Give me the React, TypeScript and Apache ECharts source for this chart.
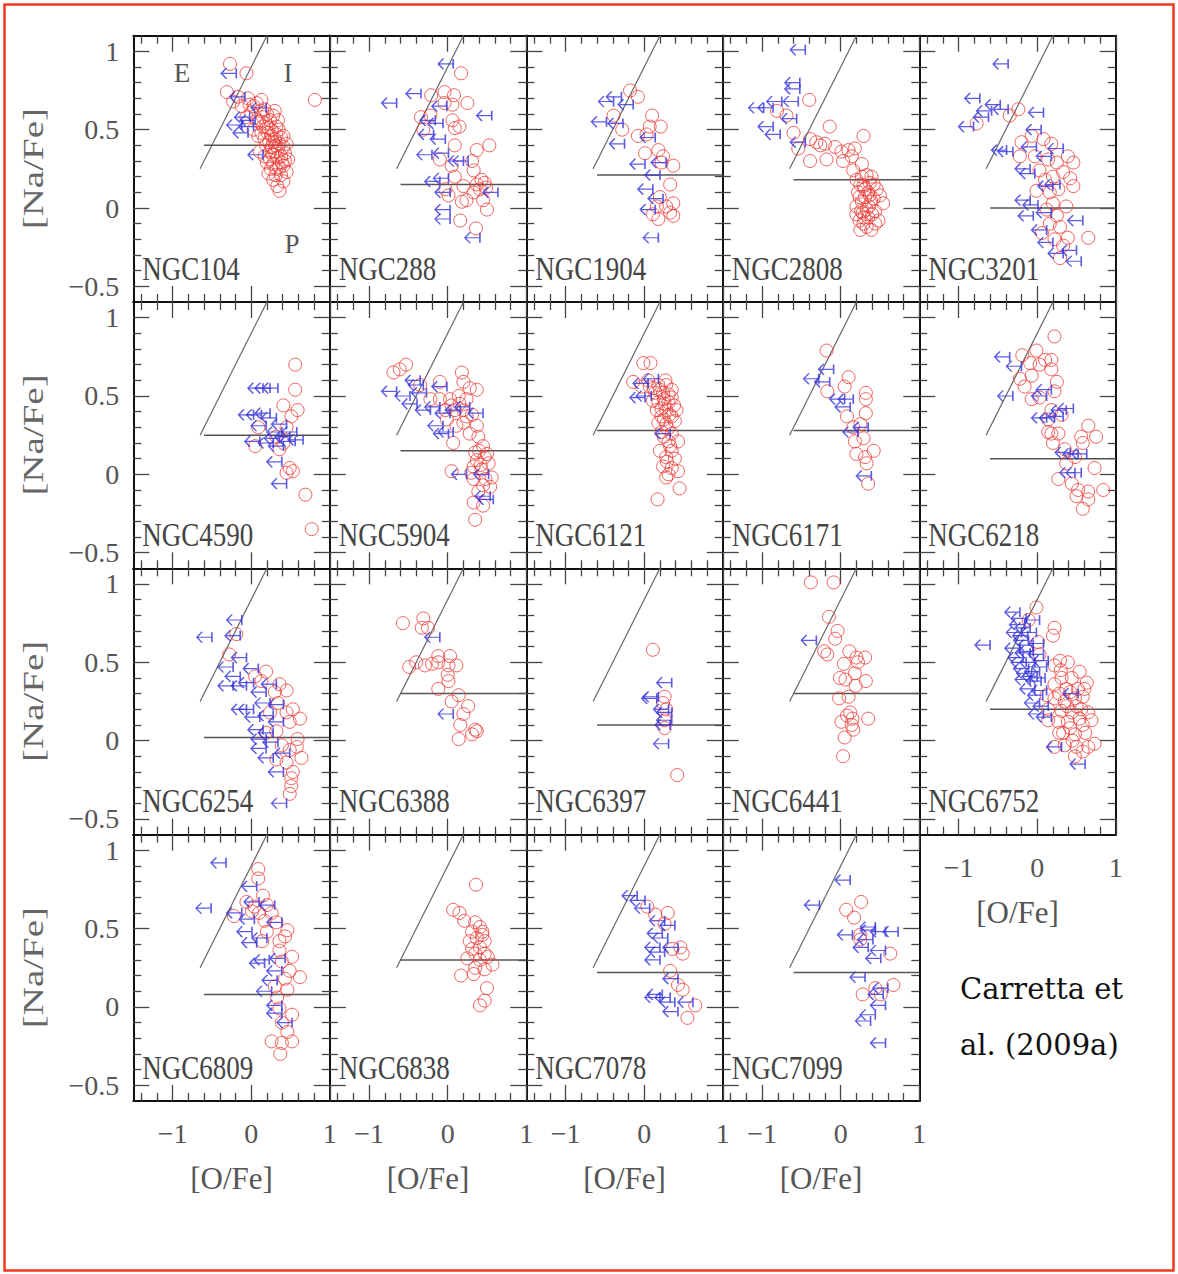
import { useEffect, useRef } from 'react';
import * as echarts from 'echarts';

// ---------- axes ----------
const X_RANGE = [-1.5, 1];
const Y_RANGE = [-0.6, 1.1];
const X_MAJOR = [-1, 0, 1];
const X_MINOR = [-1.4, -1.2, -0.8, -0.6, -0.4, -0.2, 0.2, 0.4, 0.6, 0.8];
const Y_MAJOR = [-0.5, 0, 0.5, 1];
const Y_MINOR = [-0.4, -0.3, -0.2, -0.1, 0.1, 0.2, 0.3, 0.4, 0.6, 0.7, 0.8, 0.9];

// ---------- clusters ----------
const CLUSTERS = ['NGC104', 'NGC288', 'NGC1904', 'NGC2808', 'NGC3201', 'NGC4590', 'NGC5904', 'NGC6121', 'NGC6171', 'NGC6218',
  'NGC6254', 'NGC6388', 'NGC6397', 'NGC6441', 'NGC6752', 'NGC6809', 'NGC6838', 'NGC7078', 'NGC7099'];
// [Na/Fe] level of the P / I separation (horizontal line)
const H_LEVEL = [0.40, 0.15, 0.21, 0.18, 0.0, 0.25, 0.15, 0.28, 0.28, 0.10, 0.02, 0.30, 0.10, 0.30, 0.20, 0.08, 0.30, 0.22, 0.22];
const H_START = -0.6;
// I / E separation: [O/Na] = -0.9
const DIAGONAL = [[-0.65, 0.25], [0.2, 1.1]];

// ---------- data: [O/Fe], [Na/Fe]; *_D detections (circles), *_U upper limits in O (arrows) ----------
const NGC104_D = [[-0.27,0.92],[-0.06,0.86],[0.81,0.69],[-0.31,0.74],[-0.17,0.71],[-0.04,0.70],[0.13,0.69],[0.03,0.65],[0.17,0.63],[0.28,0.59],[-0.06,0.58],[0.07,0.56],[0.19,0.54],[0.32,0.52],[0.41,0.46],[0.03,0.50],[0.13,0.48],[0.26,0.46],[0.36,0.41],[0.19,0.40],[0.30,0.36],[0.43,0.35],[0.11,0.36],[0.24,0.31],[0.39,0.29],[0.32,0.25],[0.45,0.23],[0.22,0.22],[0.28,0.18],[0.41,0.17],[0.36,0.11],[0.00,0.61],[0.15,0.58],[0.24,0.56],[0.34,0.56],[0.15,0.52],[0.26,0.50],[0.32,0.47],[0.17,0.44],[0.28,0.42],[0.34,0.38],[0.24,0.36],[0.41,0.39],[0.34,0.32],[0.28,0.28],[0.17,0.33],[0.41,0.27],[0.07,0.67],[-0.12,0.65],[-0.23,0.68],
  [0.21,0.48],[0.30,0.44],[0.38,0.45],[0.23,0.42],[0.31,0.40],[0.38,0.33],[0.27,0.34],[0.20,0.29],[0.36,0.26],[0.31,0.21],[0.25,0.25],[0.38,0.21],[0.43,0.30],[0.10,0.55],[0.20,0.60],[0.30,0.62],[0.09,0.46],[0.22,0.51],[0.35,0.50],[0.45,0.41],[0.26,0.39],[0.33,0.14],[0.47,0.31],[-0.02,0.66],[0.12,0.62]];
const NGC104_U = [[-0.19,0.86],[-0.08,0.71],[0.19,0.64],[-0.02,0.58],[-0.12,0.53],[-0.04,0.48],[0.05,0.56],[0.15,0.34],[0.03,0.52]];

const NGC288_D = [[0.17,0.86],[-0.21,0.72],[-0.04,0.74],[0.08,0.72],[0.25,0.67],[-0.04,0.67],[0.06,0.66],[-0.34,0.58],[-0.22,0.59],[0.06,0.56],[0.15,0.52],[0.09,0.51],[-0.31,0.50],[0.53,0.40],[0.09,0.40],[0.37,0.37],[-0.10,0.31],[0.31,0.30],[0.05,0.27],[0.33,0.24],[0.09,0.20],[0.43,0.18],[0.37,0.15],[0.47,0.16],[0.41,0.12],[0.49,0.13],[0.20,0.14],[0.01,0.08],[0.24,0.05],[0.18,0.04],[0.45,0.05],[0.50,-0.01],[0.16,-0.08],[0.36,-0.13],[-0.03,0.12],[0.33,0.10]];
const NGC288_U = [[0.07,0.92],[-0.34,0.73],[-0.65,0.67],[-0.01,0.65],[0.56,0.59],[-0.16,0.56],[-0.06,0.54],[-0.18,0.47],[-0.03,0.44],[-0.20,0.34],[0.01,0.35],[0.26,0.30],[0.20,0.30],[-0.10,0.17],[0.01,0.19],[0.03,0.10],[0.64,0.10],[0.03,-0.01],[0.03,-0.07],[0.41,-0.19]];

const NGC1904_D = [[-0.18,0.75],[-0.08,0.71],[-0.39,0.59],[-0.28,0.50],[0.10,0.59],[0.07,0.52],[0.21,0.52],[-0.08,0.46],[0.03,0.47],[0.18,0.37],[0.01,0.35],[0.24,0.33],[0.37,0.27],[0.22,0.29],[0.33,0.15],[0.20,0.07],[0.37,0.03],[0.16,0.01],[0.11,-0.04],[0.18,-0.07],[0.33,-0.03],[0.37,-0.05],[0.28,0.01]];
const NGC1904_U = [[-0.29,0.71],[-0.39,0.68],[-0.14,0.66],[-0.48,0.55],[-0.27,0.54],[-0.25,0.41],[0.14,0.45],[0.01,0.28],[0.28,0.29],[0.20,0.21],[0.11,0.12],[0.24,0.06],[0.14,-0.01],[0.18,-0.19]];

const NGC2808_D = [[-0.40,0.69],[-0.81,0.62],[-0.69,0.59],[-0.60,0.48],[-0.54,0.38],[-0.39,0.44],[-0.31,0.42],[-0.20,0.41],[-0.14,0.52],[-0.07,0.39],[-0.39,0.30],[-0.18,0.31],[0.01,0.36],[0.18,0.38],[0.29,0.46],[0.03,0.30],[0.14,0.33],[0.27,0.28],[0.16,0.24],[0.33,0.21],[0.20,0.18],[0.42,0.15],[0.29,0.14],[0.22,0.10],[0.35,0.10],[0.46,0.12],[0.54,0.03],[0.27,0.04],[0.39,0.04],[0.20,0.01],[0.33,-0.01],[0.44,-0.02],[0.20,-0.04],[0.35,-0.06],[0.29,-0.10],[0.48,-0.08],[0.25,-0.14],[0.39,-0.14],[-0.26,0.40],[0.10,0.37],[0.27,0.20],[0.39,0.20],
  [0.24,0.07],[0.31,0.07],[0.37,0.08],[0.42,0.06],[0.26,-0.02],[0.30,-0.06],[0.40,-0.04],[0.24,-0.08],[0.33,-0.12],[0.44,-0.10],[0.31,0.12],[0.37,0.16],[0.25,0.15],[0.50,0.08],[0.36,0.01],[0.28,-0.03]];
const NGC2808_U = [[-0.45,1.01],[-0.52,0.80],[-0.52,0.76],[-0.54,0.68],[-0.75,0.68],[-0.86,0.64],[-0.98,0.64],[-0.56,0.57],[-0.86,0.52],[-0.77,0.47],[-0.45,0.42]];

const NGC3201_D = [[-0.24,0.63],[-0.35,0.59],[-0.77,0.54],[-0.20,0.42],[-0.07,0.46],[0.08,0.44],[0.18,0.41],[-0.22,0.33],[-0.03,0.33],[0.14,0.31],[0.25,0.29],[0.39,0.33],[0.46,0.29],[0.33,0.23],[0.42,0.19],[0.46,0.14],[0.03,0.24],[0.10,0.18],[0.20,0.20],[-0.01,0.11],[0.16,0.10],[0.27,0.12],[0.20,0.03],[0.37,0.01],[0.25,-0.05],[0.16,-0.10],[0.29,-0.12],[0.39,-0.19],[0.22,-0.20],[0.33,-0.24],[0.29,-0.32],[0.65,-0.19],[0.06,-0.16],[0.12,-0.01]];
const NGC3201_U = [[-0.37,0.92],[-0.73,0.70],[-0.47,0.66],[-0.37,0.63],[-0.58,0.62],[-0.62,0.58],[-0.81,0.52],[0.08,0.61],[0.05,0.50],[-0.39,0.37],[-0.31,0.36],[0.33,0.38],[-0.01,0.39],[0.18,0.33],[-0.09,0.25],[-0.03,0.22],[0.20,0.14],[0.29,0.15],[-0.09,0.05],[0.01,0.02],[-0.05,-0.05],[0.58,-0.08],[0.18,-0.03],[0.12,-0.14],[0.20,-0.22],[0.50,-0.27],[0.56,-0.34],[0.33,-0.29]];

const NGC4590_D = [[0.56,0.70],[0.56,0.54],[0.41,0.44],[0.59,0.41],[0.51,0.37],[0.09,0.30],[0.45,0.30],[0.05,0.18],[0.36,0.16],[0.49,0.04],[0.53,0.02],[0.45,0.01],[0.69,-0.13],[0.77,-0.35],[0.32,0.24],[0.41,0.20]];
const NGC4590_U = [[0.24,0.55],[0.34,0.55],[0.15,0.55],[0.03,0.38],[0.13,0.38],[0.24,0.39],[0.32,0.36],[0.19,0.31],[0.45,0.32],[0.58,0.27],[0.49,0.24],[0.36,0.23],[0.66,0.22],[0.11,0.21],[0.56,0.21],[0.28,0.20],[0.41,0.18],[0.39,0.08],[0.45,-0.06],[0.39,0.27]];

const NGC5904_D = [[-0.69,0.65],[-0.61,0.67],[-0.53,0.70],[0.18,0.65],[0.20,0.59],[0.37,0.54],[0.28,0.55],[-0.10,0.59],[-0.35,0.57],[-0.22,0.48],[-0.10,0.48],[0.03,0.48],[0.14,0.50],[0.24,0.48],[-0.03,0.41],[0.09,0.41],[0.20,0.41],[0.31,0.38],[0.20,0.33],[0.37,0.31],[0.28,0.26],[0.39,0.24],[0.07,0.20],[0.45,0.18],[0.35,0.14],[0.47,0.11],[0.37,0.09],[0.52,0.07],[0.33,0.05],[0.43,0.03],[0.56,-0.02],[0.05,0.02],[0.33,-0.03],[0.45,-0.07],[0.54,-0.08],[0.39,-0.11],[0.33,-0.18],[0.45,-0.20],[0.35,-0.29],[-0.01,0.35],[0.11,0.31],[0.24,0.37],
  [0.40,0.15],[0.50,0.13],[0.42,0.06],[0.30,0.01],[0.48,-0.03],[0.15,0.45],[0.05,0.44]];
const NGC5904_U = [[-0.35,0.60],[-0.31,0.57],[-0.65,0.53],[-0.48,0.50],[-0.39,0.45],[-0.27,0.52],[-0.01,0.56],[-0.22,0.41],[-0.10,0.43],[0.03,0.39],[0.16,0.41],[0.45,0.39],[0.28,0.43],[0.01,0.26],[0.07,0.27],[0.24,0.00],[0.52,0.00],[0.58,-0.16],[0.54,-0.14],[-0.06,0.31]];

const NGC6121_D = [[-0.01,0.71],[0.08,0.71],[-0.14,0.59],[-0.03,0.56],[0.07,0.56],[0.18,0.57],[0.28,0.57],[0.14,0.52],[0.24,0.52],[0.35,0.49],[0.18,0.46],[0.26,0.45],[0.16,0.41],[0.28,0.41],[0.41,0.41],[0.22,0.37],[0.35,0.37],[0.18,0.33],[0.28,0.32],[0.39,0.34],[0.22,0.27],[0.35,0.26],[0.43,0.21],[0.31,0.21],[0.20,0.15],[0.35,0.15],[0.28,0.11],[0.39,0.10],[0.24,0.05],[0.35,0.04],[0.28,-0.02],[0.43,0.02],[0.45,-0.09],[0.17,-0.16],[0.31,0.51],[0.11,0.47],[0.20,0.54],[0.05,0.60],
  [0.25,0.48],[0.31,0.46],[0.22,0.42],[0.32,0.38],[0.25,0.35],[0.30,0.29],[0.25,0.24],[0.33,0.18],[0.29,0.08],[0.31,0.00],[0.27,0.60],[0.35,0.54],[0.12,0.55],[0.38,0.44]];
const NGC6121_U = [[0.18,0.61],[0.01,0.49],[0.09,0.50],[0.05,0.58],[0.33,0.26]];

const NGC6171_D = [[-0.18,0.79],[-0.17,0.53],[0.10,0.62],[0.05,0.56],[0.32,0.52],[0.32,0.48],[0.08,0.37],[0.32,0.39],[0.16,0.30],[0.25,0.32],[0.18,0.21],[0.29,0.23],[0.42,0.15],[0.20,0.13],[0.31,0.11],[0.33,0.07],[0.35,-0.06]];
const NGC6171_U = [[-0.28,0.61],[-0.09,0.67],[-0.14,0.59],[0.05,0.48],[0.16,0.48],[0.12,0.43],[0.22,0.27],[0.35,0.30],[0.39,-0.01]];

const NGC6218_D = [[0.22,0.88],[-0.19,0.76],[-0.01,0.79],[0.10,0.73],[0.18,0.73],[-0.09,0.71],[0.03,0.70],[0.18,0.67],[-0.07,0.63],[-0.22,0.61],[-0.16,0.56],[0.25,0.59],[0.22,0.53],[-0.07,0.48],[0.03,0.49],[0.18,0.41],[0.31,0.38],[0.14,0.35],[0.18,0.26],[0.27,0.26],[0.20,0.20],[0.65,0.31],[0.75,0.24],[0.56,0.24],[0.58,0.20],[0.35,0.16],[0.48,0.11],[0.37,0.07],[0.27,-0.03],[0.73,0.04],[0.44,-0.06],[0.52,-0.10],[0.65,-0.11],[0.84,-0.10],[0.50,-0.14],[0.65,-0.16],[0.58,-0.22],[0.14,0.27]];
const NGC6218_U = [[-0.35,0.75],[-0.20,0.69],[-0.31,0.50],[0.18,0.54],[0.12,0.50],[0.46,0.42],[0.37,0.41],[0.12,0.36],[0.22,0.36],[0.33,0.37],[0.42,0.14],[0.52,0.13],[0.63,0.13],[0.48,0.01],[0.56,0.01]];

const NGC6254_D = [[-0.19,0.68],[-0.28,0.55],[0.05,0.41],[0.19,0.44],[0.36,0.36],[0.45,0.32],[0.30,0.31],[0.34,0.24],[0.53,0.20],[0.62,0.14],[0.49,0.12],[0.32,0.06],[0.59,0.01],[0.39,-0.03],[0.58,-0.04],[0.49,-0.06],[0.64,-0.11],[0.32,-0.12],[0.45,-0.14],[0.53,-0.20],[0.51,-0.24],[0.51,-0.29],[0.49,-0.34],[0.13,0.38],[0.24,0.18],[0.45,0.18],[0.19,0.05]];
const NGC6254_U = [[-0.12,0.77],[-0.50,0.66],[-0.14,0.67],[-0.06,0.53],[-0.23,0.47],[-0.14,0.41],[-0.23,0.35],[-0.06,0.35],[0.09,0.46],[0.03,0.37],[0.32,0.36],[0.19,0.31],[0.03,0.20],[0.24,0.24],[0.41,0.23],[0.28,0.16],[0.15,0.07],[0.41,0.12],[0.28,0.05],[0.19,0.01],[0.34,-0.01],[0.19,-0.05],[0.49,-0.08],[0.28,-0.11],[0.41,-0.20],[0.45,-0.40],[0.11,0.15],[-0.06,0.20]];

const NGC6388_D = [[-0.57,0.75],[-0.31,0.78],[-0.33,0.72],[-0.25,0.72],[-0.49,0.47],[-0.40,0.50],[-0.29,0.48],[-0.20,0.49],[-0.12,0.54],[-0.12,0.50],[0.03,0.54],[0.01,0.48],[0.11,0.48],[0.01,0.38],[-0.12,0.33],[0.14,0.29],[0.05,0.25],[0.26,0.22],[0.20,0.17],[0.16,0.10],[0.35,0.07],[0.31,0.04],[0.37,0.06],[0.14,0.01],[0.00,0.42]];
const NGC6388_U = [[-0.10,0.66],[0.07,0.17]];

const NGC6397_D = [[0.11,0.58],[0.26,0.28],[0.28,0.20],[0.26,0.13],[0.26,0.08],[0.42,-0.22],[0.24,0.24]];
const NGC6397_U = [[0.35,0.37],[0.18,0.28],[0.16,0.27],[0.31,0.20],[0.35,0.18],[0.33,0.10],[0.35,0.13],[0.31,-0.02]];

const NGC6441_D = [[-0.38,1.01],[-0.09,1.01],[-0.15,0.79],[-0.04,0.70],[-0.07,0.65],[-0.21,0.57],[-0.17,0.55],[0.11,0.57],[0.20,0.53],[0.31,0.53],[0.22,0.50],[0.04,0.49],[0.18,0.43],[-0.01,0.40],[0.06,0.39],[0.32,0.38],[0.19,0.35],[-0.02,0.27],[0.10,0.28],[0.12,0.18],[0.08,0.16],[0.15,0.14],[0.01,0.12],[0.35,0.14],[0.14,0.10],[0.16,0.07],[0.05,0.02],[0.03,-0.10]];
const NGC6441_U = [[-0.31,0.64]];

const NGC6752_D = [[-0.01,0.85],[-0.11,0.77],[0.22,0.72],[0.20,0.67],[0.01,0.63],[0.03,0.55],[0.29,0.51],[0.39,0.50],[0.22,0.48],[0.54,0.44],[0.31,0.40],[0.44,0.40],[0.63,0.37],[0.22,0.36],[0.37,0.33],[0.52,0.33],[0.22,0.27],[0.35,0.25],[0.48,0.27],[0.58,0.28],[0.31,0.19],[0.44,0.18],[0.56,0.20],[0.65,0.18],[0.27,0.12],[0.39,0.12],[0.54,0.14],[0.69,0.13],[0.33,0.05],[0.48,0.04],[0.61,0.05],[0.22,-0.04],[0.35,-0.03],[0.50,-0.04],[0.65,-0.04],[0.73,-0.02],[0.48,-0.10],[0.14,0.13],[0.14,0.20],[0.12,0.29],
  [0.28,0.30],[0.42,0.31],[0.50,0.22],[0.38,0.22],[0.28,0.05],[0.42,0.08],[0.58,0.10],[0.30,0.45],[0.60,0.33],[0.45,0.00],[0.58,-0.07]];
const NGC6752_U = [[-0.60,0.61],[-0.22,0.82],[-0.14,0.78],[0.03,0.77],[-0.09,0.72],[-0.20,0.69],[-0.01,0.69],[-0.11,0.64],[0.08,0.62],[-0.22,0.59],[-0.05,0.57],[0.08,0.55],[-0.18,0.53],[-0.03,0.50],[0.14,0.51],[-0.11,0.46],[0.03,0.44],[-0.09,0.39],[0.05,0.38],[-0.03,0.33],[0.12,0.32],[0.52,0.30],[0.03,0.24],[0.14,0.22],[0.08,0.17],[0.18,0.15],[0.31,-0.04],[0.61,-0.15],[-0.09,0.56],[0.12,0.47],
  [-0.16,0.74],[-0.05,0.61],[-0.14,0.50],[0.00,0.41],[0.07,0.29],[-0.07,0.43],[0.10,0.40],[-0.12,0.67]];

const NGC6809_D = [[0.09,0.88],[0.09,0.82],[0.15,0.71],[0.04,0.64],[0.20,0.65],[0.10,0.60],[0.26,0.60],[-0.22,0.58],[0.17,0.55],[0.32,0.54],[0.46,0.49],[0.43,0.45],[0.36,0.42],[0.20,0.48],[0.14,0.42],[0.36,0.36],[0.39,0.29],[0.52,0.32],[0.49,0.23],[0.62,0.19],[0.43,0.18],[0.46,0.11],[0.30,0.13],[0.33,0.06],[0.36,-0.01],[0.52,-0.05],[0.39,-0.10],[0.46,-0.16],[0.26,-0.22],[0.52,-0.22],[0.39,-0.23],[0.37,-0.30],[0.01,0.61],[-0.06,0.67]];
const NGC6809_U = [[-0.32,0.92],[-0.51,0.63],[0.07,0.77],[0.10,0.67],[0.30,0.65],[-0.12,0.60],[0.04,0.56],[0.39,0.54],[0.01,0.48],[0.20,0.44],[0.07,0.41],[0.23,0.30],[0.43,0.31],[0.39,0.23],[0.33,0.17],[0.26,0.10],[0.39,-0.04],[0.52,-0.10],[0.39,0.01],[0.17,0.28]];

const NGC6838_D = [[0.36,0.78],[0.07,0.62],[0.15,0.60],[0.21,0.55],[0.35,0.54],[0.41,0.51],[0.31,0.48],[0.44,0.46],[0.37,0.44],[0.47,0.42],[0.28,0.42],[0.41,0.38],[0.35,0.34],[0.47,0.34],[0.25,0.31],[0.41,0.30],[0.51,0.32],[0.57,0.27],[0.35,0.25],[0.47,0.24],[0.17,0.20],[0.33,0.21],[0.50,0.12],[0.47,0.04],[0.41,0.01],[0.44,0.48],[0.31,0.37]];
const NGC6838_U: number[][] = [];

const NGC7078_D = [[0.04,0.64],[0.14,0.59],[0.30,0.60],[0.26,0.53],[0.46,0.38],[0.49,0.34],[0.33,0.23],[0.43,0.14],[0.49,0.11],[0.65,0.01],[0.55,-0.07],[0.36,0.37]];
const NGC7078_U = [[-0.09,0.71],[0.01,0.68],[0.07,0.63],[0.26,0.55],[0.39,0.52],[0.23,0.47],[0.30,0.44],[0.20,0.38],[0.43,0.38],[0.26,0.35],[0.20,0.30],[0.43,0.18],[0.23,0.08],[0.33,0.06],[0.39,0.03],[0.62,0.03],[0.43,-0.03],[0.20,0.06]];

const NGC7099_D = [[0.26,0.67],[0.07,0.62],[0.17,0.57],[0.25,0.43],[0.63,0.34],[0.67,0.14],[0.28,0.08],[0.51,0.08],[0.44,0.12],[0.25,0.46]];
const NGC7099_U = [[0.12,0.81],[-0.27,0.65],[0.44,0.51],[0.15,0.46],[0.44,0.49],[0.73,0.48],[0.57,0.48],[0.41,0.43],[0.35,0.38],[0.57,0.36],[0.51,0.31],[0.31,0.19],[0.60,0.12],[0.54,0.08],[0.57,0.01],[0.44,-0.05],[0.38,-0.09],[0.57,-0.23]];

const DETECTIONS = [NGC104_D, NGC288_D, NGC1904_D, NGC2808_D, NGC3201_D, NGC4590_D, NGC5904_D, NGC6121_D, NGC6171_D, NGC6218_D,
  NGC6254_D, NGC6388_D, NGC6397_D, NGC6441_D, NGC6752_D, NGC6809_D, NGC6838_D, NGC7078_D, NGC7099_D];
const UPPER_LIMITS = [NGC104_U, NGC288_U, NGC1904_U, NGC2808_U, NGC3201_U, NGC4590_U, NGC5904_U, NGC6121_U, NGC6171_U, NGC6218_U,
  NGC6254_U, NGC6388_U, NGC6397_U, NGC6441_U, NGC6752_U, NGC6809_U, NGC6838_U, NGC7078_U, NGC7099_U];

// ---------- layout ----------
const COL_LEFT0 = 133.3;
const COL_W = 196.5;
const ROW_TOP0 = 35.7;
const ROW_H = 266.3;
const SERIF = '"Liberation Serif", "Times New Roman", serif';
const RED = '#ee3b36';
const BLUE = '#3434dc';
const ARROW = 'path://M0,5L14,5M14,0.5L14,9.5M5,0L0,5L5,10';

const fmt = (v: number) => (v < 0 ? '\u2212' + String(Math.abs(v)) : String(v));

function buildOption() {
  const grid: any[] = [];
  const xAxis: any[] = [];
  const yAxis: any[] = [];
  const series: any[] = [];
  const graphic: any[] = [];

  const tickStyle = { color: '#444', width: 1.3 };
  const frame = { show: true, onZero: false, lineStyle: { color: '#111', width: 2 } };
  const noLine = { show: false, onZero: false };
  const labelStyle = { color: '#555', fontFamily: SERIF, fontSize: 28 };

  CLUSTERS.forEach((name, k) => {
    const row = Math.floor(k / 5);
    const col = k % 5;
    const left = COL_LEFT0 + col * COL_W;
    const top = ROW_TOP0 + row * ROW_H;
    grid.push({ left, top, width: COL_W, height: ROW_H, show: false });

    const showX = row === 3 || (row === 2 && col === 4);
    const showY = col === 0;
    const xb = { type: 'value', gridIndex: k, min: X_RANGE[0], max: X_RANGE[1], splitLine: { show: false }, axisPointer: { show: false } };
    const yb = { type: 'value', gridIndex: k, min: Y_RANGE[0], max: Y_RANGE[1], splitLine: { show: false }, axisPointer: { show: false } };

    xAxis.push({
      ...xb, position: 'bottom', axisLine: frame,
      axisTick: { show: true, inside: true, length: 16, customValues: X_MAJOR, lineStyle: tickStyle },
      axisLabel: { show: showX, customValues: X_MAJOR, margin: 19, formatter: fmt, ...labelStyle },
      name: showX ? '[O/Fe]' : '', nameLocation: 'middle', nameGap: 62,
      nameTextStyle: { color: '#555', fontFamily: SERIF, fontSize: 31 },
    });
    xAxis.push({ ...xb, position: 'bottom', axisLine: noLine, axisLabel: { show: false },
      axisTick: { show: true, inside: true, length: 8, customValues: X_MINOR, lineStyle: tickStyle } });
    xAxis.push({ ...xb, position: 'top', axisLine: frame, axisLabel: { show: false },
      axisTick: { show: true, inside: true, length: 16, customValues: X_MAJOR, lineStyle: tickStyle } });
    xAxis.push({ ...xb, position: 'top', axisLine: noLine, axisLabel: { show: false },
      axisTick: { show: true, inside: true, length: 8, customValues: X_MINOR, lineStyle: tickStyle } });

    yAxis.push({
      ...yb, position: 'left', axisLine: frame,
      axisTick: { show: true, inside: true, length: 16, customValues: Y_MAJOR, lineStyle: tickStyle },
      axisLabel: { show: showY, customValues: Y_MAJOR, margin: 14, formatter: fmt, ...labelStyle },
    });
    yAxis.push({ ...yb, position: 'left', axisLine: noLine, axisLabel: { show: false },
      axisTick: { show: true, inside: true, length: 8, customValues: Y_MINOR, lineStyle: tickStyle } });
    yAxis.push({ ...yb, position: 'right', axisLine: frame, axisLabel: { show: false },
      axisTick: { show: true, inside: true, length: 16, customValues: Y_MAJOR, lineStyle: tickStyle } });
    yAxis.push({ ...yb, position: 'right', axisLine: noLine, axisLabel: { show: false },
      axisTick: { show: true, inside: true, length: 8, customValues: Y_MINOR, lineStyle: tickStyle } });

    const ax = { xAxisIndex: 4 * k, yAxisIndex: 4 * k, silent: true };
    series.push({ ...ax, type: 'line', data: DIAGONAL, symbol: 'none', lineStyle: { color: '#666', width: 1.2 }, z: 1 });
    series.push({ ...ax, type: 'line', data: [[H_START, H_LEVEL[k]], [X_RANGE[1], H_LEVEL[k]]], symbol: 'none', lineStyle: { color: '#555', width: 1.5 }, z: 1 });
    series.push({ ...ax, type: 'scatter', data: DETECTIONS[k], symbol: 'circle', symbolSize: 13,
      itemStyle: { color: 'rgba(0,0,0,0)', borderColor: RED, borderWidth: 1 }, z: 2 });
    series.push({ ...ax, type: 'scatter', data: UPPER_LIMITS[k], symbol: ARROW, symbolSize: [15, 11], symbolOffset: [-7.5, 0],
      itemStyle: { color: 'rgba(0,0,0,0)', borderColor: BLUE, borderWidth: 1.4 }, z: 3 });

    graphic.push({
      type: 'text', x: left + 9, y: top + 233, scaleY: 1.25, silent: true, z: 10,
      style: { text: name, fontSize: 27, fontFamily: SERIF, fill: '#444', align: 'left', verticalAlign: 'middle', textAlign: 'left', textVerticalAlign: 'middle' },
    });
  });

  for (let r = 0; r < 4; r++) {
    graphic.push({
      type: 'text', x: 33, y: ROW_TOP0 + r * ROW_H + 133, rotation: Math.PI / 2, scaleX: 1.3, silent: true,
      style: { text: '[Na/Fe]', fontSize: 30, fontFamily: SERIF, fill: '#666', align: 'center', verticalAlign: 'middle', textAlign: 'center', textVerticalAlign: 'middle' },
    });
  }

  const letter = (t: string, x: number, y: number) => ({
    type: 'text', x, y, silent: true,
    style: { text: t, fontSize: 27, fontFamily: SERIF, fill: '#555', align: 'center', verticalAlign: 'middle', textAlign: 'center', textVerticalAlign: 'middle' },
  });
  graphic.push(letter('E', 182, 73), letter('I', 288, 73), letter('P', 292, 244));

  const cite = (t: string, y: number) => ({
    type: 'text', x: 960, y, silent: true,
    style: { text: t, fontSize: 29, fontFamily: '"DejaVu Serif", serif', fill: '#111', align: 'left', verticalAlign: 'middle', textAlign: 'left', textVerticalAlign: 'middle' },
  });
  graphic.push(cite('Carretta et', 989), cite('al. (2009a)', 1045));

  graphic.push({
    type: 'rect', silent: true, shape: { x: 4.5, y: 4.5, width: 1169, height: 1266 },
    style: { fill: 'none', stroke: '#f2391e', lineWidth: 2.5 },
  });

  return { animation: false, backgroundColor: '#fff', grid, xAxis, yAxis, series, graphic };
}

export default function App() {
  const ref = useRef<HTMLDivElement>(null);
  useEffect(() => {
    const chart = echarts.init(ref.current as HTMLDivElement, null, { renderer: 'svg' });
    chart.setOption(buildOption() as any);
    return () => chart.dispose();
  }, []);
  return <div ref={ref} style={{ position: 'absolute', left: 0, top: 0, width: 1178, height: 1274, background: '#fff' }} />;
}
